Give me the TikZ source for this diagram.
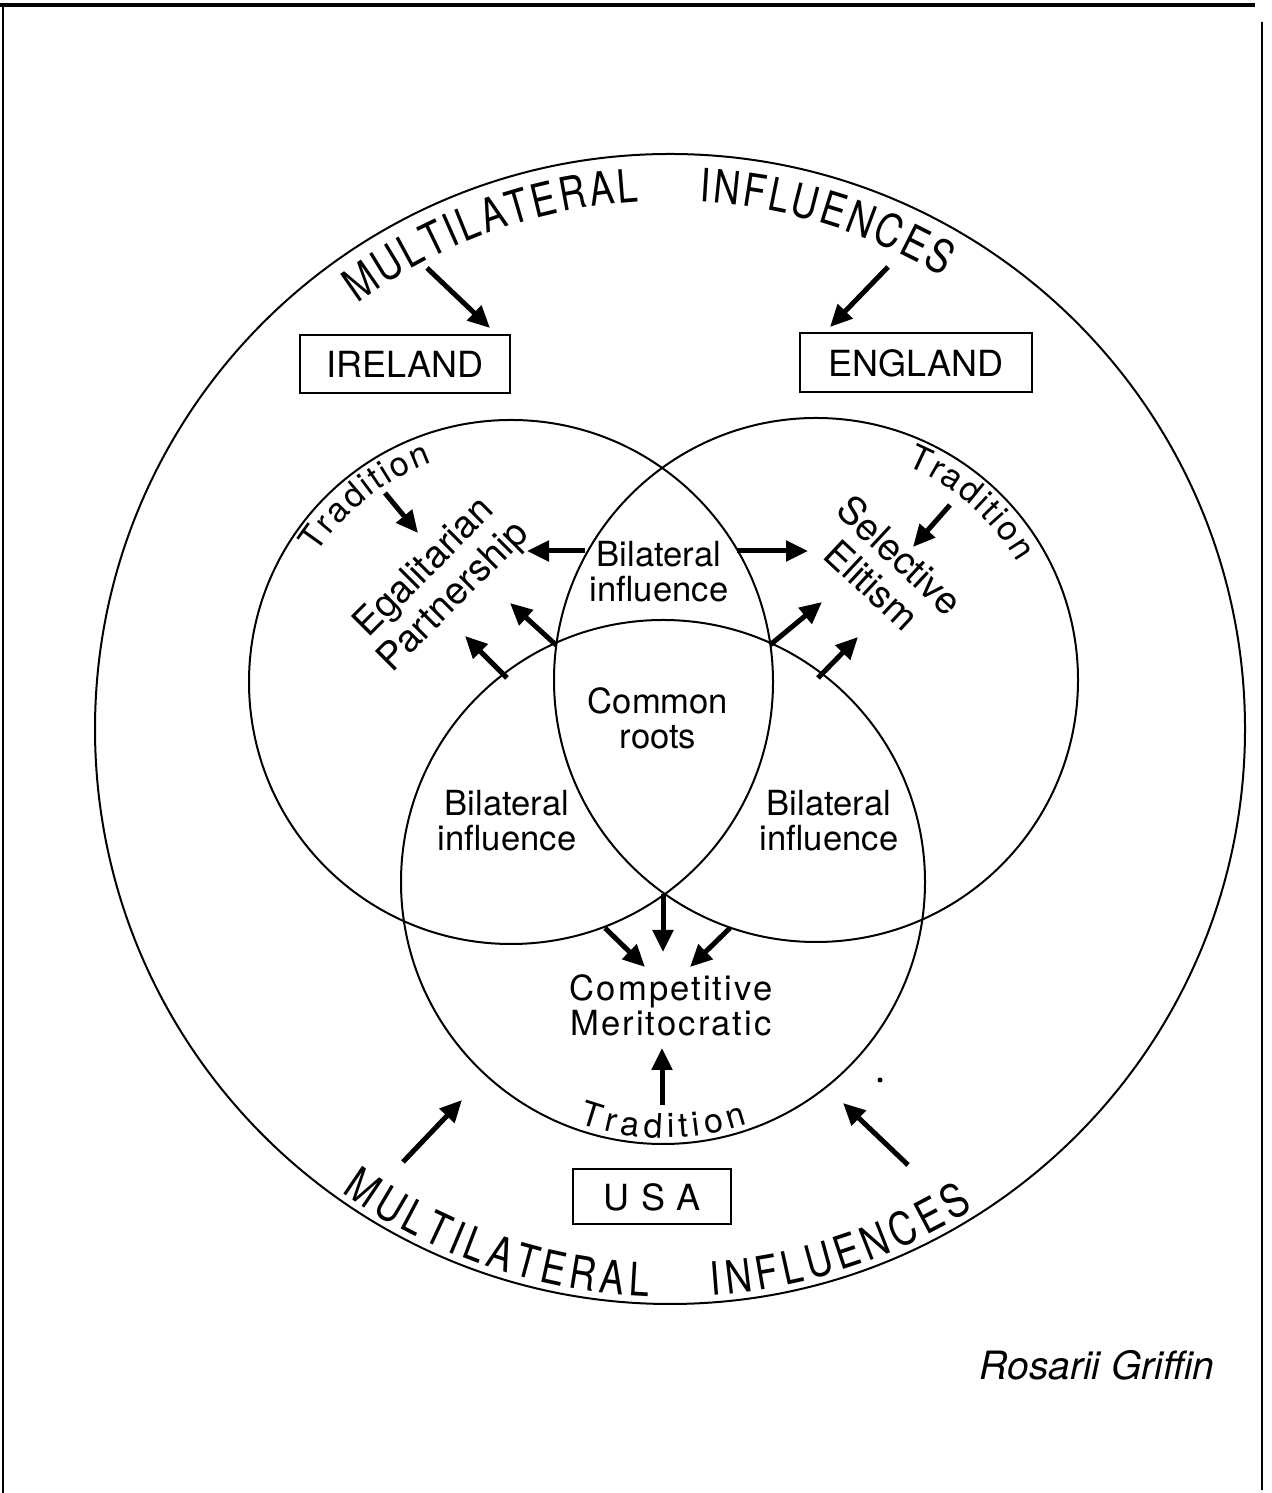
\documentclass[tikz,border=0pt]{standalone}
\usepackage{fontspec}
\setmainfont{TeX Gyre Heros}
\newfontfamily\mlfont[FakeStretch=0.8]{TeX Gyre Heros}
\newfontfamily\trackfont[LetterSpace=6]{TeX Gyre Heros}
\newfontfamily\widefont[LetterSpace=32]{TeX Gyre Heros}
\usetikzlibrary{arrows.meta,decorations.text}

% character formats for the curved captions (a kern gives the open letter spacing)
\newcommand\mlfmt{\mlfont\fontsize{23}{23}\selectfont\kern1.3pt}
\newcommand\mlbotfmt{\mlfont\fontsize{23}{23}\selectfont\kern2.5pt}
\newcommand\tradfmt{\fontsize{17}{17}\selectfont\kern1.1pt}
\newcommand\tradbotfmt{\fontsize{17}{17}\selectfont\kern2.5pt}

\begin{document}
\begin{tikzpicture}[x=0.5pt,y=0.5pt,
  ring/.style={line width=1pt},
  flow/.style={line width=2.5pt,-{Triangle[length=11pt,width=10pt]}},
  txt/.style={align=center,font=\fontsize{17.3}{17.5}\selectfont,inner sep=0pt},
  slanted/.style={align=center,font=\fontsize{19}{20.5}\selectfont,inner sep=0pt},
  country/.style={draw,line width=1pt,font=\fontsize{18}{18}\selectfont,inner sep=0pt},
  arctext/.style={decorate,decoration={text along path,text align=center,text={#1}}}
]
\useasboundingbox (0,0) rectangle (1271,1493);

% page frame
\draw[line width=2pt] (0,1488) -- (1255,1488);
\draw[line width=1.2pt] (3,1489) -- (3,0);
\draw[line width=1.2pt] (1262,1471) -- (1262,3);

% circles
\coordinate (O) at (670,764);
\coordinate (L) at (511,811);
\coordinate (R) at (816,813);
\coordinate (B) at (663,611);
\draw[ring] (O) circle[radius=575];
\draw[ring] (L) circle[radius=262];
\draw[ring] (R) circle[radius=262];
\draw[ring] (B) circle[radius=262];

% curved captions on the outer ring
\path[arctext={|\mlfmt|MULTILATERAL}] ([shift={(135:528)}]O) arc[start angle=135,end angle=85,radius=528];
\path[arctext={|\mlfmt|INFLUENCES}] ([shift={(98:528)}]O) arc[start angle=98,end angle=48,radius=528];
\path[arctext={|\mlbotfmt|MULTILATERAL}] ([shift={(226:568)}]O) arc[start angle=226,end angle=276,radius=568];
\path[arctext={|\mlbotfmt|INFLUENCES}] ([shift={(263:568)}]O) arc[start angle=263,end angle=313,radius=568];

% curved "Tradition" captions
\path[arctext={|\tradfmt|Tradition}] ([shift={(158.5:233)}]L) arc[start angle=158.5,end angle=98.5,radius=233];
\path[arctext={|\tradfmt|Tradition}] ([shift={(79:233)}]R) arc[start angle=79,end angle=19,radius=233];
\path[arctext={|\tradbotfmt|Tradition}] ([shift={(239.5:256)}]B) arc[start angle=239.5,end angle=299.5,radius=256];

% country boxes
\node[country,minimum width=105pt,minimum height=29pt] (ireland) at (405,1129) {IRELAND};
\node[country,minimum width=116pt,minimum height=29.5pt] (england) at (916,1130) {ENGLAND};
\node[country,minimum width=79pt,minimum height=27.5pt,font=\widefont\fontsize{18}{18}\selectfont] (usa) at (652,296) {USA};

% region labels
\node[txt] (bilTop) at (659,921) {Bilateral\\influence};
\node[txt] (roots) at (658,775) {Common\\roots};
\node[txt] (bilLeft) at (507,672) {Bilateral\\influence};
\node[txt] (bilRight) at (829,672) {Bilateral\\influence};
\node[txt,font=\trackfont\fontsize{17.3}{17.5}\selectfont] (merit) at (671,488) {Competitive\\Meritocratic};
\node[slanted,rotate=45] (egal) at (440,910) {Egalitarian\\Partnership};
\node[slanted,rotate=-43] (elit) at (886,923) {Selective\\Elitism};

\node[anchor=base east,font=\itshape\fontsize{19.5}{19.5}\selectfont,inner sep=0pt] (author) at (1215,113) {Rosarii Griffin};

% arrow ends
\coordinate (irT) at (427,1225);  \coordinate (irH) at (490,1165);
\coordinate (enT) at (888,1226);  \coordinate (enH) at (830,1166);
\coordinate (tlT) at (385,1000);  \coordinate (tlH) at (418,960);
\coordinate (trT) at (950,988);   \coordinate (trH) at (913,946);
\coordinate (blT) at (585,942);   \coordinate (blH) at (527,942);
\coordinate (brT) at (737,942);   \coordinate (brH) at (808,942);
\coordinate (eaT) at (556,848);   \coordinate (eaH) at (510,890);
\coordinate (ebT) at (507,815);   \coordinate (ebH) at (465,857);
\coordinate (saT) at (770,848);   \coordinate (saH) at (822,891);
\coordinate (sbT) at (818,815);   \coordinate (sbH) at (858,856);
\coordinate (vT) at (663,599);    \coordinate (vH) at (663,541);
\coordinate (dlT) at (605,565);   \coordinate (dlH) at (645,526);
\coordinate (drT) at (730,565);   \coordinate (drH) at (690,526);
\coordinate (tbT) at (662,388);   \coordinate (tbH) at (662,445);
\coordinate (mlT) at (403,331);   \coordinate (mlH) at (462,393);
\coordinate (mrT) at (908,328);   \coordinate (mrH) at (843,390);

% arrows
\foreach \a in {ir,en,tl,tr,bl,br,ea,eb,sa,sb,v,dl,dr,tb,ml,mr}
  \draw[flow] (\a T) -- (\a H);

% small speck
\fill (880,413) circle[radius=2.5];
\end{tikzpicture}
\end{document}
